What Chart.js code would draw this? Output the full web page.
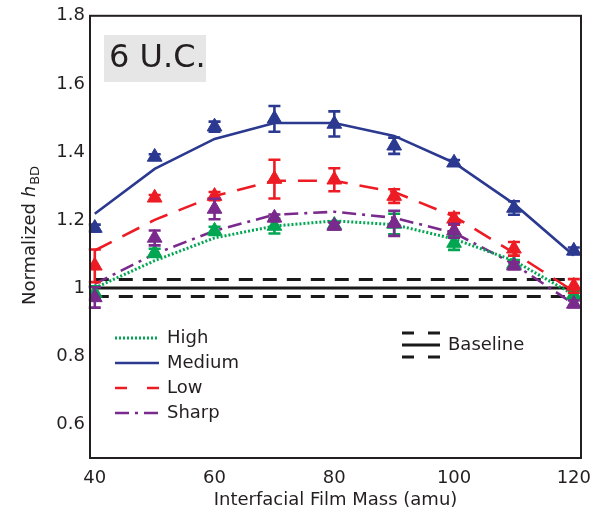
<!DOCTYPE html>
<html>
<head>
<meta charset="utf-8">
<script src="https://cdn.jsdelivr.net/npm/chart.js@4/dist/chart.umd.min.js"></script>
<style>
  html, body { margin: 0; padding: 0; background: #fff; }
  #wrap { width: 611px; height: 515px; position: relative; }
</style>
</head>
<body>
<div id="wrap"><canvas id="chart"></canvas></div>
<script>
// --- data ---
const massPoints = [40, 50, 60, 70, 80, 90, 100, 110, 120];

const highMean = [0.985, 1.103, 1.168, 1.182, 1.185, 1.188, 1.132, 1.07, 0.98];
const highErr = [0.02, 0.012, 0.012, 0.022, 0.01, 0.03, 0.02, 0.012, 0.012];
const highFit = [1.0, 1.08, 1.147, 1.182, 1.197, 1.186, 1.144, 1.08, 0.98];

const mediumMean = [1.176, 1.385, 1.474, 1.497, 1.482, 1.418, 1.368, 1.235, 1.109];
const mediumErr = [0.01, 0.008, 0.015, 0.038, 0.037, 0.024, 0.008, 0.02, 0.01];
const mediumFit = [1.218, 1.35, 1.438, 1.485, 1.485, 1.447, 1.368, 1.247, 1.095];

const lowMean = [1.065, 1.265, 1.27, 1.32, 1.318, 1.27, 1.203, 1.115, 1.006];
const lowErr = [0.048, 0.008, 0.012, 0.057, 0.034, 0.02, 0.017, 0.02, 0.02];
const lowFit = [1.11, 1.2, 1.27, 1.315, 1.315, 1.282, 1.21, 1.103, 0.99];

const sharpMean = [0.972, 1.147, 1.232, 1.206, 1.182, 1.19, 1.168, 1.065, 0.953];
const sharpErr = [0.03, 0.022, 0.03, 0.01, 0.01, 0.037, 0.02, 0.01, 0.01];
const sharpFit = [1.012, 1.1, 1.168, 1.215, 1.224, 1.206, 1.162, 1.07, 0.953];

const baselineX = [40, 120];
const baselineLevels = [1.0, 1.025, 0.975];

const xTickValues = [40, 60, 80, 100, 120];
const yTickValues = [0.6, 0.8, 1.0, 1.2, 1.4, 1.6, 1.8];
const yTickLabels = ['0.6', '0.8', '1', '1.2', '1.4', '1.6', '1.8'];

const seriesNames = ['High', 'Medium', 'Low', 'Sharp'];
const panelLabel = '6 U.C.';

// --- styling ---
const FONT = "'DejaVu Sans', Verdana, sans-serif";
const TEXT_COLOUR = '#231f20';
const colours = {
    High: '#00a651',
    Medium: '#2b3990',
    Low: '#ed1c24',
    Sharp: '#7a2a8c'
};
const dashes = {
    High: [2, 2],
    Medium: [],
    Low: [19, 12],
    Sharp: [14, 6, 3, 6]
};

function toPoints(ys) {
    return massPoints.map((x, i) => ({ x: x, y: ys[i] }));
}

const means = { High: highMean, Medium: mediumMean, Low: lowMean, Sharp: sharpMean };
const errs = { High: highErr, Medium: mediumErr, Low: lowErr, Sharp: sharpErr };
const fits = { High: highFit, Medium: mediumFit, Low: lowFit, Sharp: sharpFit };
const markerOrder = { High: 4, Medium: 3, Low: 2, Sharp: 1 };

const datasets = [];

// baseline band
baselineLevels.forEach((level, i) => {
    datasets.push({
        label: 'Baseline ' + i,
        data: baselineX.map(x => ({ x: x, y: level })),
        borderColor: '#1a1a1a',
        borderWidth: 3,
        borderDash: i === 0 ? [] : [14, 10],
        pointRadius: 0,
        fill: false,
        order: 30
    });
});

// fit lines
seriesNames.forEach(name => {
    datasets.push({
        label: name + ' fit',
        data: toPoints(fits[name]),
        borderColor: colours[name],
        borderWidth: name === 'High' ? 3 : 2.6,
        borderDash: dashes[name],
        pointRadius: 0,
        tension: 0,
        fill: false,
        order: 20
    });
});

// measured points with error bars
seriesNames.forEach(name => {
    datasets.push({
        label: name,
        data: toPoints(means[name]),
        errors: errs[name],
        showLine: false,
        pointStyle: 'triangle',
        pointRadius: 8.5,
        pointBackgroundColor: colours[name],
        pointBorderColor: colours[name],
        pointBorderWidth: 1,
        borderColor: colours[name],
        order: markerOrder[name]
    });
});

const errorBarPlugin = {
    id: 'errorBars',
    afterDatasetDraw(chart, args) {
        const ds = chart.data.datasets[args.index];
        if (!ds.errors) return;
        const ctx = chart.ctx;
        const yScale = chart.scales.y;
        ctx.save();
        ctx.strokeStyle = ds.borderColor;
        ctx.lineWidth = 2.6;
        ctx.setLineDash([]);
        args.meta.data.forEach((pt, i) => {
            const v = ds.data[i].y;
            const e = ds.errors[i];
            const top = yScale.getPixelForValue(v + e);
            const bottom = yScale.getPixelForValue(v - e);
            const cap = 6;
            ctx.beginPath();
            ctx.moveTo(pt.x, top);
            ctx.lineTo(pt.x, bottom);
            ctx.moveTo(pt.x - cap, top);
            ctx.lineTo(pt.x + cap, top);
            ctx.moveTo(pt.x - cap, bottom);
            ctx.lineTo(pt.x + cap, bottom);
            ctx.stroke();
        });
        ctx.restore();
    }
};

const decorPlugin = {
    id: 'decor',
    beforeDatasetsDraw(chart) {
        const ctx = chart.ctx;
        // panel label box
        ctx.save();
        ctx.fillStyle = '#e6e6e6';
        ctx.fillRect(104, 35, 102, 47);
        ctx.fillStyle = TEXT_COLOUR;
        ctx.font = '32px ' + FONT;
        ctx.textBaseline = 'middle';
        ctx.textAlign = 'left';
        ctx.fillText(panelLabel, 109, 59);
        ctx.restore();
    },
    afterDraw(chart) {
        const ctx = chart.ctx;
        const area = chart.chartArea;
        ctx.save();

        // box around the plot
        ctx.strokeStyle = TEXT_COLOUR;
        ctx.lineWidth = 2;
        ctx.setLineDash([]);
        ctx.strokeRect(area.left, area.top, area.right - area.left, area.bottom - area.top);

        // legend for the four series
        ctx.font = '18px ' + FONT;
        ctx.textBaseline = 'middle';
        ctx.textAlign = 'left';
        seriesNames.forEach((name, i) => {
            const y = 338 + i * 25;
            ctx.strokeStyle = colours[name];
            ctx.lineWidth = name === 'High' ? 3 : 2.6;
            ctx.setLineDash(name === 'Low' ? [12, 20] : (name === 'Sharp' ? [14, 6, 3, 6] : dashes[name]));
            ctx.beginPath();
            ctx.moveTo(115, y);
            ctx.lineTo(159, y);
            ctx.stroke();
            ctx.fillStyle = TEXT_COLOUR;
            ctx.fillText(name, 167, y);
        });

        // baseline legend
        ctx.strokeStyle = '#1a1a1a';
        ctx.lineWidth = 3;
        ctx.setLineDash([12, 14]);
        [333, 357].forEach(y => {
            ctx.beginPath();
            ctx.moveTo(402, y);
            ctx.lineTo(440, y);
            ctx.stroke();
        });
        ctx.setLineDash([]);
        ctx.beginPath();
        ctx.moveTo(402, 345);
        ctx.lineTo(440, 345);
        ctx.stroke();
        ctx.fillStyle = TEXT_COLOUR;
        ctx.fillText('Baseline', 448, 345);

        // x axis title
        ctx.textAlign = 'center';
        ctx.fillText('Interfacial Film Mass (amu)', (area.left + area.right) / 2, 500);

        // y axis title with italic h and subscript BD
        ctx.translate(30, 236);
        ctx.rotate(-Math.PI / 2);
        const partA = 'Normalized ';
        ctx.font = '18px ' + FONT;
        const wA = ctx.measureText(partA).width;
        ctx.font = 'italic 18px ' + FONT;
        const wH = ctx.measureText('h').width;
        ctx.font = '13px ' + FONT;
        const wS = ctx.measureText('BD').width;
        let x0 = -(wA + wH + wS) / 2;
        ctx.textAlign = 'left';
        ctx.font = '18px ' + FONT;
        ctx.fillText(partA, x0, 0);
        ctx.font = 'italic 18px ' + FONT;
        ctx.fillText('h', x0 + wA, 0);
        ctx.font = '13px ' + FONT;
        ctx.fillText('BD', x0 + wA + wH + 1, 6);
        ctx.restore();
    }
};

new Chart(document.getElementById('chart'), {
    type: 'line',
    data: { datasets: datasets },
    plugins: [errorBarPlugin, decorPlugin],
    options: {
        responsive: true,
        maintainAspectRatio: false,
        animation: false,
        layout: { padding: { top: 14, right: 30, left: 0, bottom: 0 } },
        plugins: {
            legend: { display: false },
            tooltip: { enabled: false }
        },
        scales: {
            x: {
                type: 'linear',
                min: 39.2,
                max: 121.2,
                afterBuildTicks: scale => {
                    scale.ticks = xTickValues.map(v => ({ value: v }));
                },
                afterFit: scale => { scale.height = 57; },
                grid: { display: false, drawTicks: false },
                border: { display: false },
                ticks: {
                    color: TEXT_COLOUR,
                    font: { family: FONT, size: 18 },
                    padding: 10,
                    maxRotation: 0,
                    autoSkip: false
                }
            },
            y: {
                type: 'linear',
                min: 0.5,
                max: 1.8,
                afterBuildTicks: scale => {
                    scale.ticks = yTickValues.map(v => ({ value: v }));
                },
                afterFit: scale => { scale.width = 90; },
                grid: { display: false, drawTicks: false },
                border: { display: false },
                ticks: {
                    color: TEXT_COLOUR,
                    font: { family: FONT, size: 18 },
                    padding: 5,
                    autoSkip: false,
                    callback: value => {
                        const idx = yTickValues.findIndex(v => Math.abs(v - value) < 1e-6);
                        return idx >= 0 ? yTickLabels[idx] : '';
                    }
                }
            }
        }
    }
});
</script>
</body>
</html>
